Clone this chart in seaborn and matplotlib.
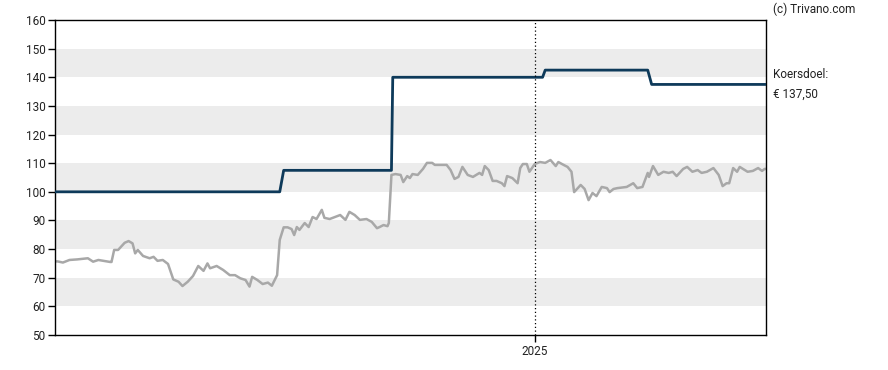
import pandas as pd
import seaborn as sns
import matplotlib.pyplot as plt

# koers (slotkoers) - dagen vanaf startdatum en waarde
start = pd.Timestamp("2024-01-02")
price_day = [0, 2, 6, 11, 17, 25, 29, 33, 42, 43, 45, 48, 53, 56, 59, 61, 63, 67, 72, 75,
             78, 82, 86, 90, 94, 97, 101, 105, 109, 113, 116, 118, 123, 128, 133, 137, 141, 145, 148, 150,
             154, 158, 162, 165, 169, 171, 174, 177, 180, 182, 184, 186, 190, 193, 196, 199, 203, 205, 209, 213,
             217, 221, 224, 228, 232, 237, 241, 245, 247, 250, 253, 254, 256, 259, 263, 265, 268, 270, 272, 276,
             280, 283, 287, 289, 298, 301, 304, 307, 310, 314, 318, 323, 325, 327, 330, 333, 336, 340, 342, 344,
             348, 352, 354, 356, 359, 361, 365, 369, 373, 377, 381, 383, 387, 390, 393, 395, 400, 403, 406, 409,
             412, 416, 420, 422, 425, 428, 435, 440, 443, 447, 451, 452, 455, 459, 463, 467, 470, 473, 478, 481,
             485, 489, 492, 496, 501, 505, 508, 511, 513, 516, 519, 521, 527, 531, 535, 538, 540, 541]
price = [75.7, 75.7, 75.3, 76.2, 76.4, 76.8, 75.6, 76.2, 75.5, 75.5, 79.7, 79.7, 82.2, 82.8, 82.0, 78.5, 79.7, 77.6, 76.8, 77.3,
         75.9, 76.2, 74.8, 69.4, 68.6, 67.1, 68.6, 70.6, 74.1, 72.4, 75.0, 73.3, 74.1, 72.7, 70.9, 70.9, 69.8, 69.2, 66.9, 70.3,
         69.2, 67.8, 68.3, 67.2, 70.9, 83.2, 87.6, 87.6, 87.0, 84.9, 87.7, 86.7, 89.1, 87.7, 91.2, 90.5, 93.7, 90.9, 90.5, 91.2,
         91.9, 90.2, 93.0, 91.9, 90.2, 90.5, 89.5, 87.3, 87.7, 88.4, 88.0, 89.1, 105.9, 106.2, 105.9, 103.4, 105.5, 104.8, 106.2, 105.9,
         108.0, 110.1, 110.1, 109.4, 109.4, 107.6, 104.5, 105.2, 108.7, 105.9, 105.2, 106.6, 105.9, 109.0, 107.6, 103.8, 103.8, 103.0, 102.0, 105.5,
         104.8, 103.0, 108.3, 109.7, 109.7, 107.0, 109.7, 110.4, 110.1, 111.1, 109.0, 110.4, 109.4, 108.7, 107.0, 99.9, 102.4, 101.0, 97.1, 99.6,
         98.5, 101.7, 101.3, 99.9, 101.0, 101.3, 101.7, 103.0, 101.3, 101.7, 106.6, 105.2, 109.0, 105.9, 107.0, 106.6, 107.0, 105.5, 108.0, 108.7,
         107.0, 107.6, 106.6, 107.0, 108.3, 105.9, 102.0, 103.0, 103.0, 108.3, 107.0, 108.7, 107.0, 107.3, 108.3, 107.3, 108.0, 108.0]

# koersdoel (trappen)
target_day = [0, 171, 174, 256, 257, 371, 373, 451, 454, 541]
target = [100, 100, 107.5, 107.5, 140, 140, 142.5, 142.5, 137.5, 137.5]

yticks = [50, 60, 70, 80, 90, 100, 110, 120, 130, 140, 150, 160]
year_label = "2025"

df_price = pd.DataFrame({"datum": start + pd.to_timedelta(price_day, unit="D"), "koers": price})
df_target = pd.DataFrame({"datum": start + pd.to_timedelta(target_day, unit="D"), "doel": target})

sns.set_style("white")
plt.rcParams["font.family"] = ["Roboto", "DejaVu Sans"]

fig = plt.figure(figsize=(8.88, 3.7), dpi=100)
ax = fig.add_axes([55 / 888, 35 / 370, 711 / 888, 315 / 370])

# grijze banden
for lo in range(60, 160, 20):
    ax.axhspan(lo, lo + 10, color="#ececec", lw=0, zorder=0)

sns.lineplot(data=df_price, x="datum", y="koers", color="#a8a8a8", lw=1.8, ax=ax, zorder=2)
sns.lineplot(data=df_target, x="datum", y="doel", color="#0e3a5a", lw=2, ax=ax, zorder=3)

x2025 = pd.Timestamp(year_label + "-01-01")
ax.axvline(x2025, color="black", lw=0.9, ls=(0, (1, 2)), zorder=4)

ax.set_xlim(df_price["datum"].iloc[0], df_price["datum"].iloc[-1])
ax.set_ylim(50, 160)
ax.set_yticks(yticks)
ax.set_xticks([x2025])
ax.set_xticklabels([year_label])
ax.set_xlabel("")
ax.set_ylabel("")
ax.tick_params(axis="both", direction="out", length=5, width=1, color="black",
               labelsize=8.5, labelcolor="#222222", pad=2, left=True, bottom=True)
for s in ax.spines.values():
    s.set_visible(True)
    s.set_color("black")
    s.set_linewidth(1)

fig.text(773 / 888, 1 - 9 / 370, "(c) Trivano.com", fontsize=8.5, color="#222222", va="center", ha="left")
fig.text(773 / 888, 1 - 75 / 370, "Koersdoel:", fontsize=8.5, color="#222222", va="center", ha="left")
fig.text(773 / 888, 1 - 94 / 370, "€ 137,50", fontsize=8.5, color="#222222", va="center", ha="left")

fig.savefig("out.png", dpi=100)
